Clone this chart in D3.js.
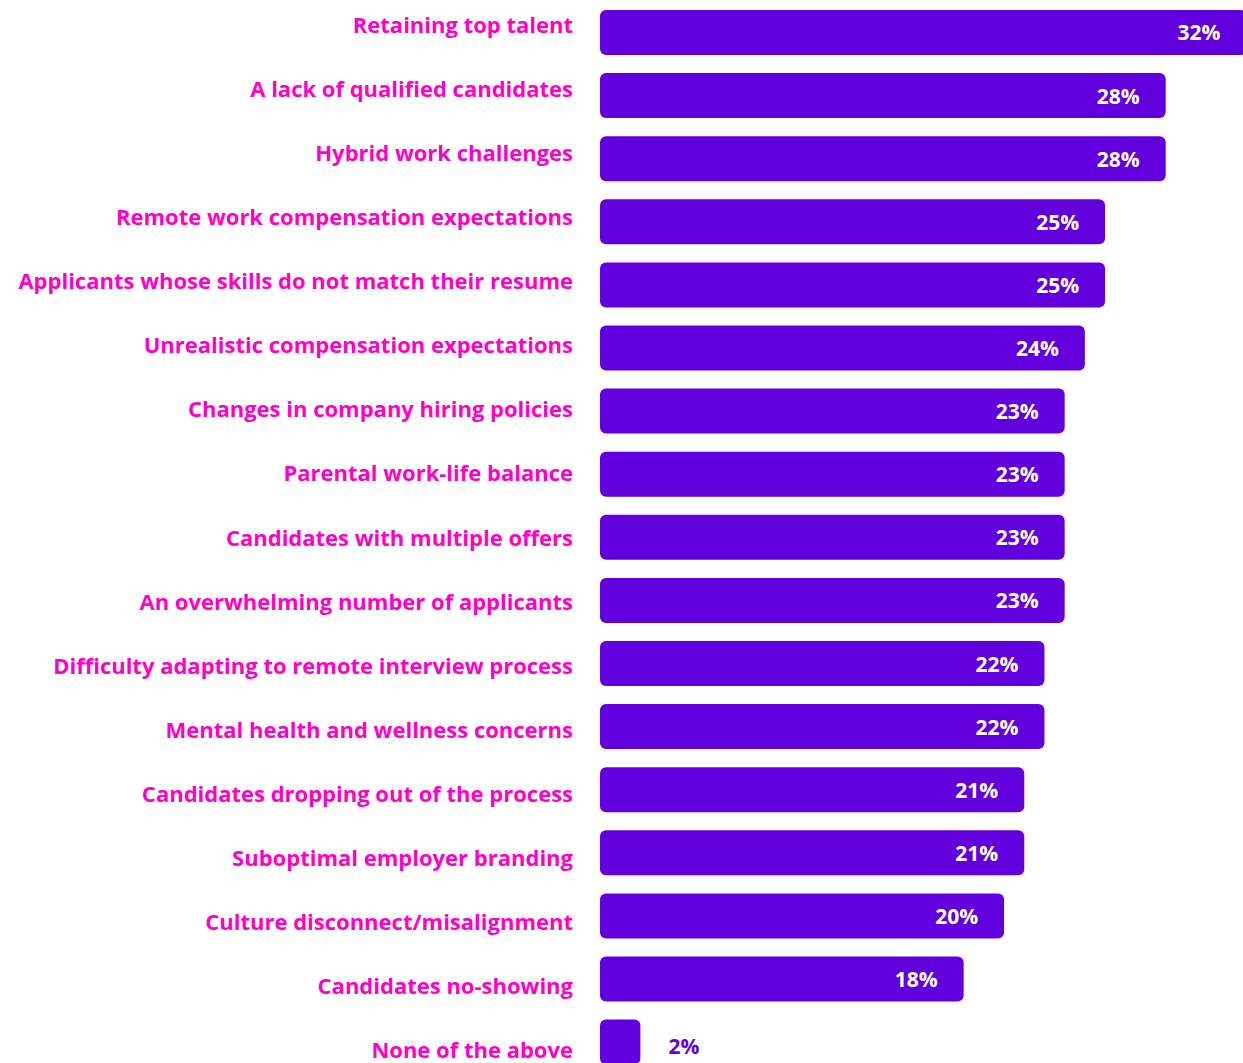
<!DOCTYPE html>
<html>
<head>
<meta charset="utf-8">
<script src="https://cdn.jsdelivr.net/npm/d3@7"></script>
<style>
  html, body { margin: 0; padding: 0; background: #ffffff; overflow: hidden; }
  svg { display: block; }
</style>
</head>
<body>
<svg id="chart" width="1243" height="1063"></svg>
<script>
// Survey responses: biggest hiring challenges (share of respondents, %)
const categories = [
  "Retaining top talent",
  "A lack of qualified candidates",
  "Hybrid work challenges",
  "Remote work compensation expectations",
  "Applicants whose skills do not match their resume",
  "Unrealistic compensation expectations",
  "Changes in company hiring policies",
  "Parental work-life balance",
  "Candidates with multiple offers",
  "An overwhelming number of applicants",
  "Difficulty adapting to remote interview process",
  "Mental health and wellness concerns",
  "Candidates dropping out of the process",
  "Suboptimal employer branding",
  "Culture disconnect/misalignment",
  "Candidates no-showing",
  "None of the above"
];
const values = [32, 28, 28, 25, 25, 24, 23, 23, 23, 23, 22, 22, 21, 21, 20, 18, 2];
const valueLabels = ["32%", "28%", "28%", "25%", "25%", "24%", "23%", "23%", "23%", "23%", "22%", "22%", "21%", "21%", "20%", "18%", "2%"];

const barColor = "#6200dd";
const labelColor = "#ff00c8";
const fontFamily = "'Open Sans', 'Noto Sans', sans-serif";

const svg = d3.select("#chart");

const x = d3.scaleLinear().domain([0, 32]).range([600, 1246.5]);

const y = d3.scaleBand()
  .domain(categories)
  .range([10, 1064.6])
  .paddingInner(0.287)
  .paddingOuter(0);

// category labels sit on a slightly wider rhythm than the bars
const yLabel = d3.scalePoint()
  .domain(categories)
  .range([33, 1058]);

const rows = svg.selectAll("g.row")
  .data(categories.map((c, i) => ({ cat: c, value: values[i], label: valueLabels[i] })))
  .join("g")
  .attr("class", "row");

rows.append("rect")
  .attr("x", x(0))
  .attr("y", d => y(d.cat))
  .attr("width", d => x(d.value) - x(0))
  .attr("height", y.bandwidth())
  .attr("rx", 6)
  .attr("ry", 6)
  .attr("fill", barColor);

rows.append("text")
  .attr("x", 573)
  .attr("y", d => yLabel(d.cat))
  .attr("text-anchor", "end")
  .attr("fill", labelColor)
  .style("font-family", fontFamily)
  .style("font-weight", 700)
  .style("font-size", "22px")
  .text(d => d.cat);

const isInside = d => x(d.value) - x(0) > 80;

rows.append("text")
  .attr("x", d => (isInside(d) ? x(d.value) - 26 : x(d.value) + 28))
  .attr("y", d => y(d.cat) + y.bandwidth() / 2 + (isInside(d) ? 8 : 12))
  .attr("text-anchor", d => (isInside(d) ? "end" : "start"))
  .attr("fill", d => (isInside(d) ? "#ffffff" : barColor))
  .style("font-family", fontFamily)
  .style("font-weight", 700)
  .style("font-size", "21px")
  .text(d => d.label);
</script>
</body>
</html>
